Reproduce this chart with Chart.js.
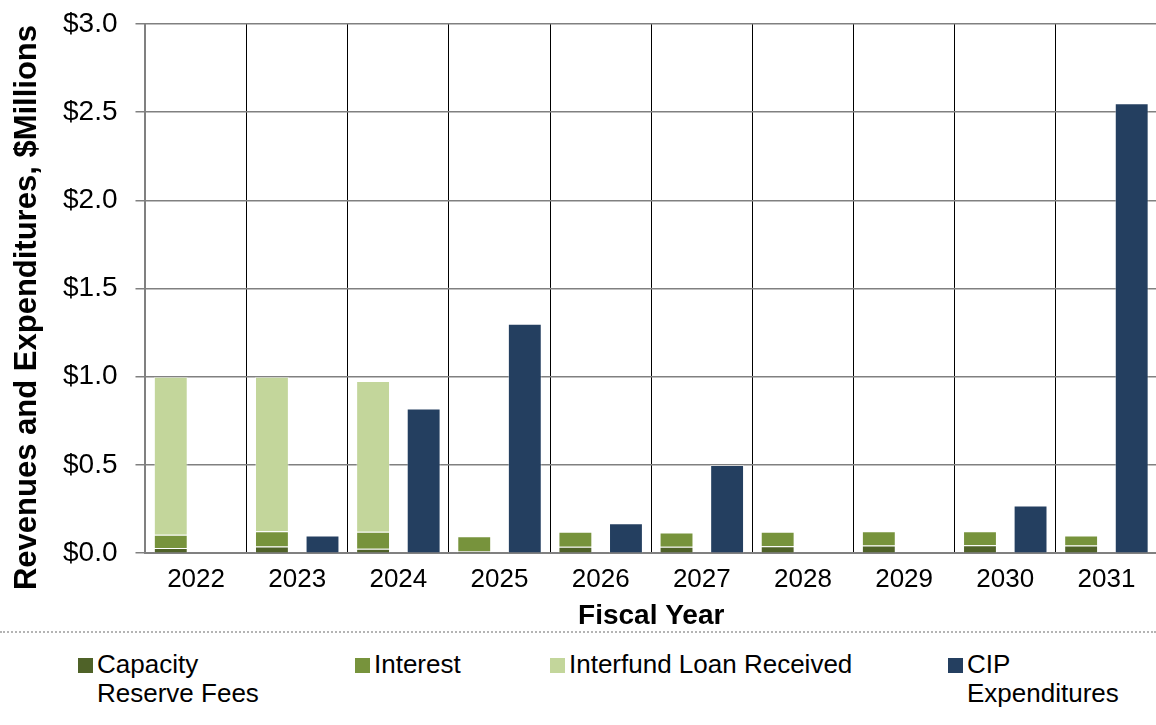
<!DOCTYPE html>
<html>
<head>
<meta charset="utf-8">
<script src="https://cdn.jsdelivr.net/npm/chart.js@4.4.1/dist/chart.umd.min.js"></script>
<style>
  html, body { margin: 0; padding: 0; background: #fff; overflow: hidden; }
  body { width: 1156px; height: 725px; position: relative; font-family: "Liberation Sans", Arial, sans-serif; }
  #wrap { position: absolute; left: 0; top: -11px; width: 1157px; height: 644px; }
  #rule { position: absolute; left: 0; top: 631px; width: 1156px; border-top: 2px dotted #b4b4b4; }
  #legend { position: absolute; left: 0; top: 650px; width: 1156px; height: 70px; }
  .item { position: absolute; top: 0; font-size: 26px; line-height: 29px; color: #000; }
  .swatch { position: absolute; top: 8px; width: 15px; height: 15px; }
  .text { position: absolute; top: 0; }
</style>
</head>
<body>
<div id="wrap"><canvas id="chart"></canvas></div>
<div id="rule"></div>
<div id="legend"></div>
<script>
// Fiscal years shown on the category axis
const years = ['2022', '2023', '2024', '2025', '2026', '2027', '2028', '2029', '2030', '2031'];

// Revenues, $ millions
const capacityReserveFees = [0.030, 0.038, 0.025, 0.012, 0.036, 0.036, 0.040, 0.044, 0.045, 0.044];
const interest            = [0.075, 0.087, 0.096, 0.084, 0.085, 0.081, 0.081, 0.081, 0.080, 0.056];
const interfundLoan       = [0.895, 0.875, 0.855, 0, 0, 0, 0, 0, 0, 0];

// Expenditures, $ millions
const cipExpenditures     = [0, 0.10, 0.82, 1.30, 0.17, 0.50, 0, 0, 0.27, 2.55];

// Y-axis tick range
const yMin = 0, yMax = 3, yStep = 0.5;

const seriesNames = ['Capacity Reserve Fees', 'Interest', 'Interfund Loan Received', 'CIP Expenditures'];
const seriesColors = ['#4F6228', '#77933C', '#C3D69B', '#243F60'];
const yTitle = 'Revenues and Expenditures, $Millions';

const FONT = '"Liberation Sans", Arial, sans-serif';

function bars(label, data, color, stack) {
  return {
    label, data, stack,
    backgroundColor: color,
    borderColor: 'rgba(255,255,255,0.35)',
    borderWidth: 1,
    categoryPercentage: 1.0,
    barPercentage: 0.67
  };
}

// Rotated value-axis title, centred a little below the plot's midpoint
const yTitlePlugin = {
  id: 'yTitle',
  afterDraw(chart) {
    const { ctx, chartArea } = chart;
    ctx.save();
    ctx.font = 'bold 31px ' + FONT;
    ctx.fillStyle = '#000';
    ctx.textAlign = 'center';
    ctx.textBaseline = 'middle';
    ctx.translate(27, (chartArea.top + chartArea.bottom) / 2 + 19);
    ctx.rotate(-Math.PI / 2);
    ctx.fillText(yTitle, 0, 0);
    ctx.restore();
  }
};

const chart = new Chart(document.getElementById('chart'), {
  type: 'bar',
  data: {
    labels: years,
    datasets: [
      bars(seriesNames[0], capacityReserveFees, seriesColors[0], 'revenues'),
      bars(seriesNames[1], interest, seriesColors[1], 'revenues'),
      bars(seriesNames[2], interfundLoan, seriesColors[2], 'revenues'),
      bars(seriesNames[3], cipExpenditures, seriesColors[3], 'expenditures')
    ]
  },
  plugins: [yTitlePlugin],
  options: {
    responsive: true,
    maintainAspectRatio: false,
    animation: false,
    layout: { padding: { top: 10, left: 45, right: 0, bottom: 0 } },
    plugins: {
      legend: { display: false },
      tooltip: { enabled: false }
    },
    scales: {
      x: {
        stacked: true,
        grid: { color: '#000', lineWidth: 1, drawTicks: false, offset: true },
        border: { color: '#808080', width: 2 },
        ticks: { color: '#000', font: { family: FONT, size: 26 }, padding: 11 },
        title: {
          display: true, text: 'Fiscal Year', color: '#000',
          font: { family: FONT, size: 28, weight: 'bold' }, padding: { top: -7, bottom: 0 }
        }
      },
      y: {
        stacked: true,
        min: yMin, max: yMax,
        ticks: {
          stepSize: yStep, color: '#000', padding: 18,
          font: { family: FONT, size: 28 },
          callback: v => '$' + Number(v).toFixed(1)
        },
        grid: { color: '#808080', lineWidth: 1.5, tickLength: 10, tickColor: '#808080' },
        border: { color: '#808080', width: 2 }
      }
    }
  }
});

// HTML legend built from the chart's own legend items
const legendLeft = [78, 355, 550, 948];
const legendTextWidth = [190, 170, 340, 175];
const legendEl = document.getElementById('legend');
chart.options.plugins.legend.labels.generateLabels(chart).forEach((it, i) => {
  const item = document.createElement('div');
  item.className = 'item';
  item.style.left = legendLeft[i] + 'px';
  const sw = document.createElement('div');
  sw.className = 'swatch';
  sw.style.left = '0px';
  sw.style.background = it.fillStyle;
  const tx = document.createElement('div');
  tx.className = 'text';
  tx.style.left = '19px';
  tx.style.width = legendTextWidth[i] + 'px';
  tx.textContent = it.text;
  item.appendChild(sw);
  item.appendChild(tx);
  legendEl.appendChild(item);
});
</script>
</body>
</html>
